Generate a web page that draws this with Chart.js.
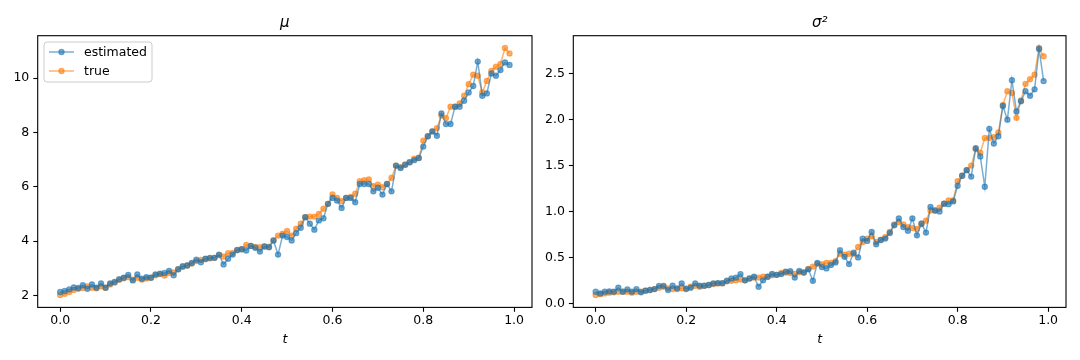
<!DOCTYPE html>
<html>
<head>
<meta charset="utf-8">
<script src="https://cdn.jsdelivr.net/npm/chart.js@4.4.1/dist/chart.umd.min.js"></script>
<style>
    html, body { margin: 0; padding: 0; background: #fff; }
    #wrap { position: relative; width: 1080px; height: 360px; }
    .panel { position: absolute; top: 0; width: 540px; height: 360px; }
</style>
</head>
<body>
<div id="wrap">
    <div class="panel" style="left:0"><canvas id="muChart"></canvas></div>
    <div class="panel" style="left:540px"><canvas id="sigmaChart"></canvas></div>
</div>
<script>
// time grid
const tValues = [0.00, 0.01, 0.02, 0.03, 0.04, 0.05, 0.06, 0.07, 0.08, 0.09,
    0.10, 0.11, 0.12, 0.13, 0.14, 0.15, 0.16, 0.17, 0.18, 0.19,
    0.20, 0.21, 0.22, 0.23, 0.24, 0.25, 0.26, 0.27, 0.28, 0.29,
    0.30, 0.31, 0.32, 0.33, 0.34, 0.35, 0.36, 0.37, 0.38, 0.39,
    0.40, 0.41, 0.42, 0.43, 0.44, 0.45, 0.46, 0.47, 0.48, 0.49,
    0.50, 0.51, 0.52, 0.53, 0.54, 0.55, 0.56, 0.57, 0.58, 0.59,
    0.60, 0.61, 0.62, 0.63, 0.64, 0.65, 0.66, 0.67, 0.68, 0.69,
    0.70, 0.71, 0.72, 0.73, 0.74, 0.75, 0.76, 0.77, 0.78, 0.79,
    0.80, 0.81, 0.82, 0.83, 0.84, 0.85, 0.86, 0.87, 0.88, 0.89,
    0.90, 0.91, 0.92, 0.93, 0.94, 0.95, 0.96, 0.97, 0.98, 0.99];

// mu panel
const muEstimated = [2.12, 2.16, 2.22, 2.29, 2.27, 2.37, 2.24, 2.40, 2.28, 2.44,
    2.28, 2.44, 2.49, 2.59, 2.65, 2.75, 2.55, 2.77, 2.61, 2.67,
    2.65, 2.77, 2.80, 2.82, 2.90, 2.74, 2.96, 3.07, 3.10, 3.19,
    3.31, 3.22, 3.35, 3.38, 3.38, 3.50, 3.14, 3.35, 3.50, 3.67,
    3.70, 3.65, 3.82, 3.75, 3.61, 3.80, 3.77, 4.02, 3.50, 4.20,
    4.15, 4.02, 4.29, 4.49, 4.88, 4.64, 4.42, 4.76, 4.84, 5.37,
    5.59, 5.49, 5.22, 5.59, 5.59, 5.43, 6.10, 6.10, 6.10, 5.83,
    5.96, 5.71, 6.10, 5.83, 6.78, 6.69, 6.81, 6.90, 6.98, 7.06,
    7.48, 7.86, 8.04, 7.88, 8.70, 8.31, 8.31, 8.95, 8.95, 9.17,
    9.47, 9.71, 10.61, 9.35, 9.44, 10.17, 10.09, 10.30, 10.58, 10.49];
const muTrue = [2.01, 2.06, 2.12, 2.20, 2.24, 2.27, 2.33, 2.28, 2.26, 2.33,
    2.28, 2.40, 2.47, 2.57, 2.63, 2.67, 2.58, 2.65, 2.58, 2.62,
    2.65, 2.74, 2.78, 2.73, 2.82, 2.84, 2.96, 3.05, 3.10, 3.17,
    3.26, 3.30, 3.33, 3.36, 3.38, 3.48, 3.43, 3.55, 3.56, 3.66,
    3.70, 3.86, 3.82, 3.78, 3.77, 3.80, 3.79, 4.02, 4.20, 4.27,
    4.37, 4.20, 4.45, 4.64, 4.88, 4.90, 4.90, 5.00, 5.19, 5.37,
    5.72, 5.59, 5.47, 5.59, 5.62, 5.74, 6.20, 6.24, 6.27, 6.02,
    6.08, 5.98, 6.10, 6.33, 6.78, 6.72, 6.81, 6.90, 7.03, 7.06,
    7.70, 7.86, 8.04, 8.16, 8.62, 8.53, 8.95, 8.95, 9.07, 9.35,
    9.78, 10.13, 10.09, 9.47, 9.90, 10.27, 10.42, 10.52, 11.11, 10.91];

// sigma^2 panel
const sigmaEstimated = [0.126, 0.108, 0.126, 0.130, 0.126, 0.170, 0.126, 0.152, 0.126, 0.155,
    0.120, 0.138, 0.145, 0.155, 0.190, 0.190, 0.145, 0.192, 0.163, 0.217,
    0.155, 0.170, 0.217, 0.192, 0.192, 0.200, 0.217, 0.220, 0.220, 0.245,
    0.270, 0.280, 0.318, 0.250, 0.270, 0.290, 0.181, 0.250, 0.290, 0.320,
    0.310, 0.318, 0.345, 0.350, 0.280, 0.352, 0.335, 0.370, 0.245, 0.440,
    0.395, 0.380, 0.416, 0.445, 0.578, 0.506, 0.427, 0.550, 0.500, 0.705,
    0.680, 0.777, 0.642, 0.690, 0.705, 0.766, 0.850, 0.925, 0.830, 0.790,
    0.925, 0.740, 0.870, 0.770, 1.050, 1.010, 1.000, 1.085, 1.080, 1.110,
    1.280, 1.390, 1.450, 1.380, 1.690, 1.600, 1.270, 1.900, 1.740, 1.820,
    2.150, 2.000, 2.430, 2.090, 2.200, 2.310, 2.260, 2.330, 2.770, 2.420];
const sigmaTrue = [0.090, 0.100, 0.108, 0.116, 0.120, 0.126, 0.126, 0.126, 0.116, 0.126,
    0.126, 0.138, 0.145, 0.155, 0.170, 0.181, 0.163, 0.155, 0.155, 0.163,
    0.163, 0.181, 0.190, 0.181, 0.190, 0.200, 0.210, 0.217, 0.217, 0.240,
    0.245, 0.250, 0.260, 0.250, 0.270, 0.280, 0.280, 0.290, 0.290, 0.305,
    0.310, 0.330, 0.335, 0.330, 0.320, 0.340, 0.335, 0.375, 0.400, 0.430,
    0.425, 0.440, 0.440, 0.460, 0.540, 0.530, 0.540, 0.540, 0.614, 0.667,
    0.705, 0.730, 0.667, 0.690, 0.720, 0.777, 0.860, 0.885, 0.860, 0.830,
    0.820, 0.810, 0.860, 0.900, 1.010, 1.010, 1.040, 1.085, 1.120, 1.120,
    1.330, 1.390, 1.450, 1.500, 1.680, 1.640, 1.800, 1.800, 1.810, 1.860,
    2.160, 2.310, 2.290, 2.020, 2.210, 2.390, 2.440, 2.490, 2.780, 2.690];

// tick labels
const xTicks = [0.0, 0.2, 0.4, 0.6, 0.8, 1.0];
const muTicks = [2, 4, 6, 8, 10];
const sigmaTicks = [0.0, 0.5, 1.0, 1.5, 2.0, 2.5];

const seriesLabels = ['estimated', 'true'];
const BLUE = 'rgba(31,119,180,0.6)';
const ORANGE = 'rgba(255,127,14,0.6)';
const FONT = 'DejaVu Sans';

Chart.defaults.font.family = FONT;
Chart.defaults.color = '#000';

function pairs(ys) {
    return tValues.map((t, i) => ({x: t, y: ys[i]}));
}

function dataset(label, ys, color) {
    return {
        label: label,
        data: pairs(ys),
        borderColor: color,
        backgroundColor: color,
        pointBackgroundColor: color,
        pointBorderColor: color,
        borderWidth: 1.5,
        pointRadius: 2.6,
        pointBorderWidth: 1.2,
        pointHoverRadius: 2.6,
        tension: 0
    };
}

// matplotlib-like 5% margins
function padRange(vals) {
    const lo = Math.min(...vals), hi = Math.max(...vals);
    const m = (hi - lo) * 0.05;
    return [lo - m, hi + m];
}

// draws all four spines
const axesBox = {
    id: 'axesBox',
    afterDraw(chart) {
        const a = chart.chartArea, ctx = chart.ctx;
        ctx.save();
        ctx.strokeStyle = '#000';
        ctx.lineWidth = 1.1;
        ctx.strokeRect(a.left, a.top, a.right - a.left, a.bottom - a.top);
        ctx.restore();
    }
};

// matplotlib style legend in the upper left corner
const mplLegend = {
    id: 'mplLegend',
    afterDraw(chart) {
        const a = chart.chartArea, ctx = chart.ctx;
        const x0 = a.left + 6.3, y0 = a.top + 6.3;
        const w = 108, h = 40;
        ctx.save();
        ctx.beginPath();
        ctx.roundRect(x0, y0, w, h, 3);
        ctx.fillStyle = 'rgba(255,255,255,0.8)';
        ctx.fill();
        ctx.strokeStyle = '#cccccc';
        ctx.lineWidth = 1;
        ctx.stroke();
        ctx.font = '12.5px ' + FONT;
        ctx.textBaseline = 'middle';
        ctx.textAlign = 'left';
        chart.data.datasets.forEach((ds, i) => {
            const y = y0 + 10 + i * 19;
            ctx.strokeStyle = ds.borderColor;
            ctx.lineWidth = 1.5;
            ctx.beginPath();
            ctx.moveTo(x0 + 5, y);
            ctx.lineTo(x0 + 30, y);
            ctx.stroke();
            ctx.beginPath();
            ctx.arc(x0 + 17.5, y, 2.6, 0, Math.PI * 2);
            ctx.fillStyle = ds.borderColor;
            ctx.fill();
            ctx.lineWidth = 1.2;
            ctx.stroke();
            ctx.fillStyle = '#000';
            ctx.fillText(ds.label, x0 + 40, y + 0.5);
        });
        ctx.restore();
    }
};

function makeChart(id, title, estimated, truth, yTicks, yFmt, yAxisWidth, padRight, extraPlugins) {
    const xr = padRange(tValues);
    const yr = padRange(estimated.concat(truth));
    return new Chart(document.getElementById(id), {
        type: 'line',
        data: {
            datasets: [
                dataset(seriesLabels[0], estimated, BLUE),
                dataset(seriesLabels[1], truth, ORANGE)
            ]
        },
        plugins: [axesBox].concat(extraPlugins),
        options: {
            responsive: true,
            maintainAspectRatio: false,
            animation: false,
            layout: {padding: {left: 0, right: padRight, top: 0, bottom: 0}},
            plugins: {
                legend: {display: false},
                tooltip: {enabled: false},
                title: {
                    display: true,
                    text: title,
                    fullSize: false,
                    color: '#000',
                    font: {family: FONT, size: 15, style: 'italic', weight: 'normal'},
                    padding: {top: 14, bottom: 3.7}
                }
            },
            scales: {
                x: {
                    type: 'linear',
                    min: xr[0],
                    max: xr[1],
                    afterBuildTicks: s => { s.ticks = xTicks.map(v => ({value: v})); },
                    afterFit: s => { s.height = 52.6; },
                    grid: {drawOnChartArea: false, drawTicks: true, tickLength: 4.4, tickColor: '#000', tickWidth: 1.1},
                    border: {display: false},
                    ticks: {
                        padding: 1.5,
                        maxRotation: 0,
                        color: '#000',
                        font: {family: FONT, size: 12.5},
                        callback: v => v.toFixed(1)
                    },
                    title: {
                        display: true,
                        text: 't',
                        color: '#000',
                        font: {family: FONT, size: 12.5, style: 'italic'},
                        padding: {top: 0, bottom: 13}
                    }
                },
                y: {
                    min: yr[0],
                    max: yr[1],
                    afterBuildTicks: s => { s.ticks = yTicks.map(v => ({value: v})); },
                    afterFit: s => { s.width = yAxisWidth; },
                    grid: {drawOnChartArea: false, drawTicks: true, tickLength: 4.4, tickColor: '#000', tickWidth: 1.1},
                    border: {display: false},
                    ticks: {
                        padding: 4,
                        color: '#000',
                        font: {family: FONT, size: 12.5},
                        callback: yFmt
                    }
                }
            }
        }
    });
}

makeChart('muChart', 'μ', muEstimated, muTrue, muTicks, v => String(v), 37.7, 8, [mplLegend]);
makeChart('sigmaChart', 'σ²', sigmaEstimated, sigmaTrue, sigmaTicks, v => v.toFixed(1), 33.3, 14, []);
</script>
</body>
</html>
